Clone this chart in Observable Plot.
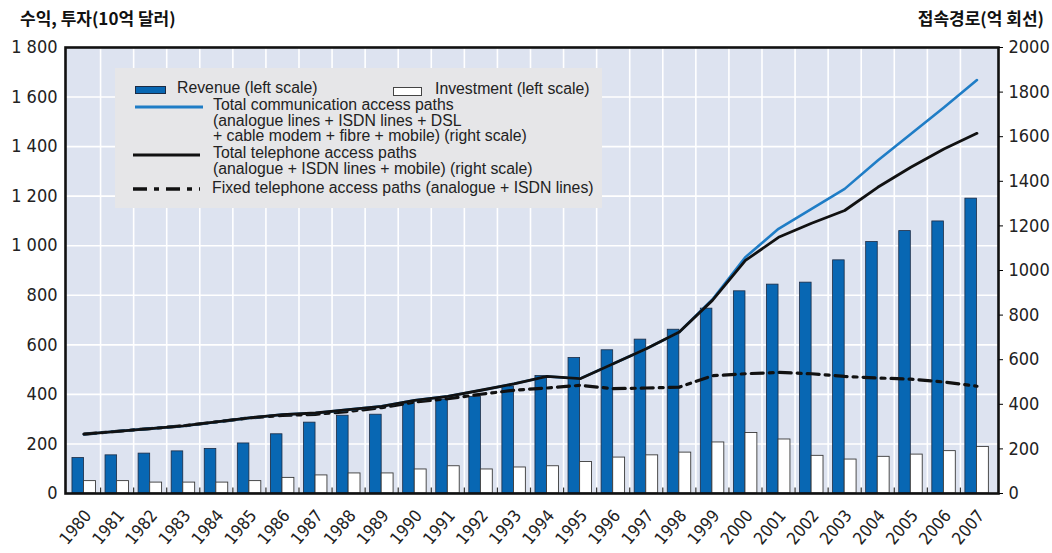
<!DOCTYPE html>
<html>
<head>
<meta charset="utf-8">
<script src="https://cdn.jsdelivr.net/npm/d3@7"></script>
<script src="https://cdn.jsdelivr.net/npm/@observablehq/plot@0.6"></script>
<style>
  html, body { margin: 0; padding: 0; background: #ffffff; }
  #wrap { position: relative; width: 1052px; height: 553px; overflow: hidden; }
  .ttl { position: absolute; font-family: "Noto Sans CJK KR", sans-serif; font-weight: 700; font-size: 17px; color: #111; white-space: nowrap; }
  #legend { position: absolute; left: 115px; top: 68px; width: 487px; height: 140px; background: #e6e6e8; font-family: "Liberation Sans", Arial, sans-serif; font-size: 15.8px; color: #222; }
  .lt { position: absolute; white-space: nowrap; line-height: 16px; }
  .sw { position: absolute; }
  #chart svg text { font-stretch: condensed; }
</style>
</head>
<body>
<div id="wrap">
  <div id="chart"></div>
  <div class="ttl" style="left:20px; top:5px;">수익, 투자(10억 달러)</div>
  <div class="ttl" style="right:8px; top:5px;">접속경로(억 회선)</div>
  <div id="legend"></div>
</div>
<script>
// ---- data ----
const years = [1980,1981,1982,1983,1984,1985,1986,1987,1988,1989,1990,1991,1992,1993,1994,1995,1996,1997,1998,1999,2000,2001,2002,2003,2004,2005,2006,2007];
// left scale, USD billion
const revenue    = [143,154,161,170,180,202,239,286,314,318,369,379,390,432,474,547,578,621,661,746,816,843,851,941,1015,1059,1098,1190];
const investment = [50,50,44,44,44,50,63,73,81,81,97,110,97,105,110,127,145,154,165,206,244,218,152,137,148,157,171,188];
// right scale, access paths
const communicationPaths = [266,279,291,303,321,339,354,361,376,391,418,436,463,492,525,515,582,649,724,870,1060,1187,1276,1366,1493,1612,1731,1854];
const telephonePaths     = [266,279,291,303,321,339,354,361,376,391,418,436,463,492,525,515,582,649,724,866,1045,1149,1212,1269,1373,1463,1545,1615];
const fixedPaths         = [266,279,291,303,321,339,350,355,368,385,410,425,445,463,473,485,470,473,477,528,537,543,537,525,518,513,500,481];
const leftTicks  = [0,200,400,600,800,1000,1200,1400,1600,1800];
const rightTicks = [0,200,400,600,800,1000,1200,1400,1600,1800,2000];
const leftMax = 1800, rightMax = 2000;

// ---- build ----
const k = leftMax / rightMax;
const rows = years.map((y, i) => ({
  year: y, revenue: revenue[i], investment: investment[i],
  comm: communicationPaths[i] * k, tel: telephonePaths[i] * k, fixed: fixedPaths[i] * k
}));
const boundaries = years.slice(1).map(y => y - 0.5);
const fmtLeft = d => d >= 1000 ? Math.floor(d / 1000) + " " + String(d % 1000).padStart(3, "0") : String(d);

const narrow = "'DejaVu Sans', sans-serif";
const bg = "#dde3f0";
const revFill = "#0867b3";
const blue = "#1f7dc6";

const chart = Plot.plot({
  width: 1052, height: 553,
  marginLeft: 65, marginRight: 54, marginTop: 47, marginBottom: 60,
  insetLeft: 2, insetRight: 5,
  x: {domain: [1979.5, 2007.5], axis: null},
  y: {domain: [0, leftMax], axis: null},
  style: {fontFamily: narrow, background: "transparent", overflow: "visible"},
  marks: [
    Plot.frame({fill: bg, stroke: null}),
    Plot.ruleY(leftTicks.slice(1), {stroke: "#ffffff", strokeWidth: 1.6}),
    Plot.ruleX(boundaries, {stroke: "#ffffff", strokeWidth: 1.6}),
    Plot.rectY(rows, {x1: d => d.year - 0.35, x2: d => d.year, y: "revenue", fill: revFill, stroke: "#1b2b44", strokeWidth: 0.8}),
    Plot.rectY(rows, {x1: d => d.year, x2: d => d.year + 0.36, y: "investment", fill: "#ffffff", stroke: "#3a3a3a", strokeWidth: 0.9}),
    Plot.ruleX(boundaries, {y1: 0, y2: 22, stroke: "#333", strokeWidth: 1.2}),
    Plot.line(rows, {x: "year", y: "fixed", stroke: "#111", strokeWidth: 3.2, strokeDasharray: "12,6,4,6"}),
    Plot.line(rows, {x: "year", y: "comm", stroke: blue, strokeWidth: 2.6}),
    Plot.line(rows, {x: "year", y: "tel", stroke: "#111", strokeWidth: 2.8}),
    Plot.frame({stroke: "#111", strokeWidth: 2.6}),
    Plot.axisY({anchor: "left", label: null, ticks: leftTicks, tickFormat: fmtLeft, tickSize: 0, tickPadding: 8, fontSize: 18, fill: "#222"}),
    Plot.axisY({anchor: "right", label: null, ticks: rightTicks.map(v => v * k), tickFormat: d => String(Math.round(d / k)), tickSize: 4, tickPadding: 6, fontSize: 18, fill: "#222"}),
    Plot.axisX({anchor: "bottom", label: null, ticks: years, tickFormat: d => String(d), tickSize: 0, tickPadding: 19, dx: 4, tickRotate: -50, fontSize: 17, fill: "#222"})
  ]
});
document.getElementById("chart").appendChild(chart);

// ---- legend ----
const legend = document.getElementById("legend");
const L = (html) => legend.insertAdjacentHTML("beforeend", html);
// positions relative to legend box (left 115, top 68)
L(`<svg class="sw" style="left:20px;top:18px" width="32" height="9"><rect x="0.5" y="0.5" width="30" height="7" fill="${revFill}" stroke="#1b2b44"/></svg>`);
L(`<div class="lt" style="left:62px;top:12px">Revenue (left scale)</div>`);
L(`<svg class="sw" style="left:278px;top:19px" width="30" height="10"><rect x="0.5" y="0.5" width="28" height="8" fill="#fff" stroke="#444"/></svg>`);
L(`<div class="lt" style="left:320px;top:13px">Investment (left scale)</div>`);
L(`<svg class="sw" style="left:20px;top:36px" width="70" height="6"><line x1="0" x2="68" y1="3" y2="3" stroke="${blue}" stroke-width="3"/></svg>`);
L(`<div class="lt" style="left:98px;top:29px">Total communication access paths</div>`);
L(`<div class="lt" style="left:98px;top:45px">(analogue lines + ISDN lines + DSL</div>`);
L(`<div class="lt" style="left:98px;top:60px">+ cable modem + fibre + mobile) (right scale)</div>`);
L(`<svg class="sw" style="left:18px;top:84px" width="70" height="6"><line x1="0" x2="67" y1="3" y2="3" stroke="#111" stroke-width="3.2"/></svg>`);
L(`<div class="lt" style="left:98px;top:77px">Total telephone access paths</div>`);
L(`<div class="lt" style="left:98px;top:93px">(analogue + ISDN lines + mobile) (right scale)</div>`);
L(`<svg class="sw" style="left:18px;top:118px" width="70" height="6"><line x1="0" x2="67" y1="3" y2="3" stroke="#111" stroke-width="3.4" stroke-dasharray="14,7,5,7"/></svg>`);
L(`<div class="lt" style="left:97px;top:112px">Fixed telephone access paths (analogue + ISDN lines)</div>`);
</script>
</body>
</html>
